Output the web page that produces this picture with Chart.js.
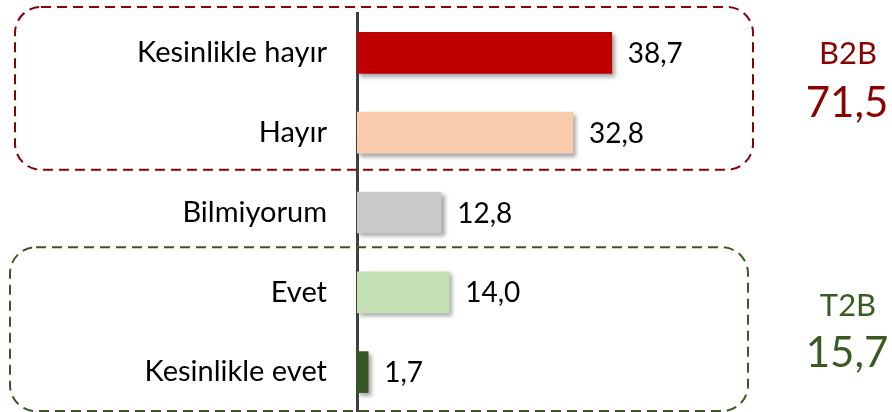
<!DOCTYPE html>
<html>
<head>
<meta charset="utf-8">
<script src="https://cdn.jsdelivr.net/npm/chart.js@4/dist/chart.umd.min.js"></script>
<style>
  html, body { margin:0; padding:0; background:#fff; }
  #wrap { width:892px; height:412px; position:relative; }
</style>
</head>
<body>
<div id="wrap"><canvas id="chart"></canvas></div>
<script>
// data
const categories = ["Kesinlikle hayır", "Hayır", "Bilmiyorum", "Evet", "Kesinlikle evet"];
const values = [38.7, 32.8, 12.8, 14.0, 1.7];
const barColors = ["#C00000", "#F8CBAD", "#C9C9C9", "#C5E0B4", "#375623"];
const groupNames = ["B2B", "T2B"];
const groupTotals = [71.5, 15.7];
const groupColors = ["#8B0000", "#3A5A24"];

const FONT = "Lato, 'Open Sans', sans-serif";
const fmt = v => v.toFixed(1).replace(".", ",");

// shadow under bars
const shadowPlugin = {
  id: "shadow",
  beforeDatasetsDraw(c){
    const ctx = c.ctx;
    ctx.save();
    ctx.shadowColor = "rgba(0,0,0,0.35)";
    ctx.shadowOffsetX = 3;
    ctx.shadowOffsetY = 3;
    ctx.shadowBlur = 4;
  },
  afterDatasetsDraw(c){
    c.ctx.restore();
  }
};

// value labels, dashed boxes, group totals
const extrasPlugin = {
  id: "extras",
  afterDraw(c){
    const ctx = c.ctx;
    const y = c.scales.y;
    const meta = c.getDatasetMeta(0);

    ctx.save();
    ctx.fillStyle = "#000";
    ctx.font = "28px " + FONT;
    ctx.textAlign = "left";
    ctx.textBaseline = "middle";
    meta.data.forEach((bar, i) => {
      ctx.fillText(fmt(values[i]), bar.x + 16, bar.y + 1);
    });

    // dashed boxes
    ctx.lineWidth = 2;
    ctx.setLineDash([10, 6]);
    ctx.strokeStyle = groupColors[0];
    let top = y.getPixelForValue(0) - 46;
    let bot = y.getPixelForValue(1) + 37;
    ctx.beginPath();
    ctx.roundRect(15, top, 738, bot - top, 26);
    ctx.stroke();

    ctx.strokeStyle = groupColors[1];
    top = y.getPixelForValue(3) - 45;
    bot = y.getPixelForValue(4) + 39;
    ctx.beginPath();
    ctx.roundRect(10, top, 738, bot - top, 26);
    ctx.stroke();
    ctx.setLineDash([]);

    // totals on the right
    ctx.textAlign = "center";
    const mids = [y.getPixelForValue(0), y.getPixelForValue(3)];
    groupNames.forEach((name, i) => {
      ctx.fillStyle = groupColors[i];
      ctx.font = "31px " + FONT;
      ctx.fillText(name, 848, mids[i] + 1 + (i ? 13 : 0));
      ctx.font = "42px " + FONT;
      ctx.fillText(fmt(groupTotals[i]), 847, mids[i] + 51 + (i ? 10 : 0));
    });
    ctx.restore();
  }
};

new Chart(document.getElementById("chart"), {
  type: "bar",
  data: {
    labels: categories,
    datasets: [{
      data: values,
      backgroundColor: barColors,
      borderWidth: 0,
      barThickness: 41
    }]
  },
  options: {
    indexAxis: "y",
    responsive: true,
    maintainAspectRatio: false,
    animation: false,
    layout: { padding: { top: 13, bottom: 0, left: 0, right: 140 } },
    plugins: { legend: { display: false }, tooltip: { enabled: false } },
    scales: {
      x: { display: false, min: 0, max: 60 },
      y: {
        grid: { display: false, drawTicks: false },
        border: { display: true, color: "#404040", width: 3 },
        ticks: { color: "#000", padding: 30, font: { family: FONT, size: 29 } },
        afterFit(scale){
          scale.width = 357;
          scale.paddingTop = 0;
          scale.paddingBottom = 0;
        }
      }
    }
  },
  plugins: [shadowPlugin, extrasPlugin]
});
</script>
</body>
</html>
